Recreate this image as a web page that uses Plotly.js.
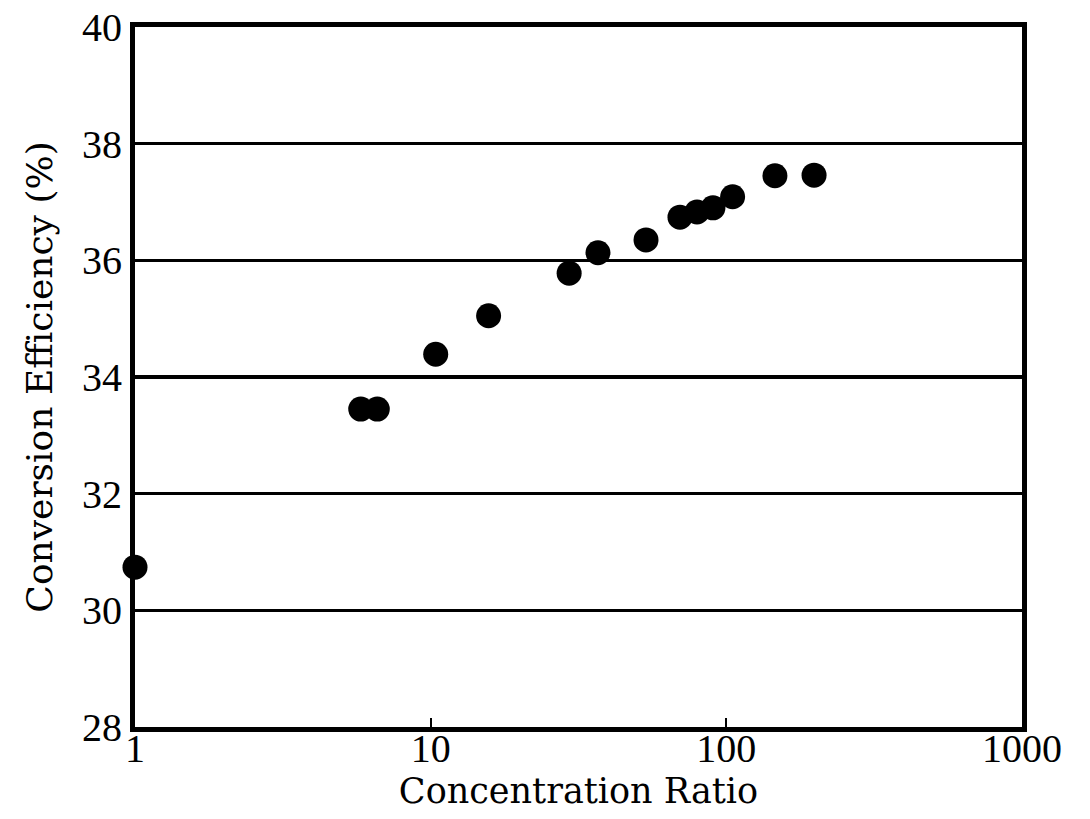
<!DOCTYPE html>
<html>
<head>
<meta charset="utf-8">
<script src="https://cdn.plot.ly/plotly-3.0.1.min.js"></script>
<style>html,body{margin:0;padding:0;background:#fff;}#chart{width:1090px;height:819px;}</style>
</head>
<body>
<div id="chart"></div>
<script>
const concentrationRatio = [1, 5.8, 6.6, 10.4, 15.7, 29.4, 36.8, 53.5, 69.7, 79.6, 90.1, 105, 146, 198];
const efficiency = [30.74, 33.45, 33.45, 34.39, 35.05, 35.78, 36.13, 36.35, 36.74, 36.83, 36.9, 37.09, 37.45, 37.46];
const xTickVals = [1, 10, 100, 1000];
const xTickText = ["1", "10", "100", "1000"];
const yTickVals = [28, 30, 32, 34, 36, 38, 40];

const tickFont = "Liberation Serif, serif";
const titleFont = "DejaVu Serif, serif";

Plotly.newPlot("chart", [{
  x: concentrationRatio,
  y: efficiency,
  type: "scatter",
  mode: "markers",
  cliponaxis: false,
  marker: {color: "#000", size: 25, line: {width: 0}},
  hoverinfo: "x+y"
}], {
  width: 1090, height: 819,
  margin: {l: 135, r: 68, t: 27, b: 92},
  paper_bgcolor: "#fff", plot_bgcolor: "#fff",
  showlegend: false,
  font: {family: tickFont, color: "#000", size: 26},
  xaxis: {
    type: "log", range: [0, 3],
    tickvals: xTickVals, ticktext: xTickText,
    ticks: "inside", ticklen: 9, tickwidth: 2, tickcolor: "#000",
    ticklabelstandoff: -18,
    showgrid: false, zeroline: false,
    showline: true, mirror: true, linecolor: "#000", linewidth: 5,
    tickfont: {family: tickFont, size: 40, color: "#000"},
    title: {text: "Concentration Ratio", font: {family: titleFont, size: 35, color: "#000"}, standoff: 10}
  },
  yaxis: {
    range: [28, 40], tickvals: yTickVals,
    ticks: "", showgrid: true, gridcolor: "#000", gridwidth: 3.5,
    zeroline: false,
    showline: true, mirror: true, linecolor: "#000", linewidth: 5,
    tickfont: {family: tickFont, size: 40, color: "#000"},
    title: {text: "Conversion Efficiency (%)", font: {family: titleFont, size: 36, color: "#000"}, standoff: 20}
  }
}, {displayModeBar: false, staticPlot: true});
</script>
</body>
</html>
